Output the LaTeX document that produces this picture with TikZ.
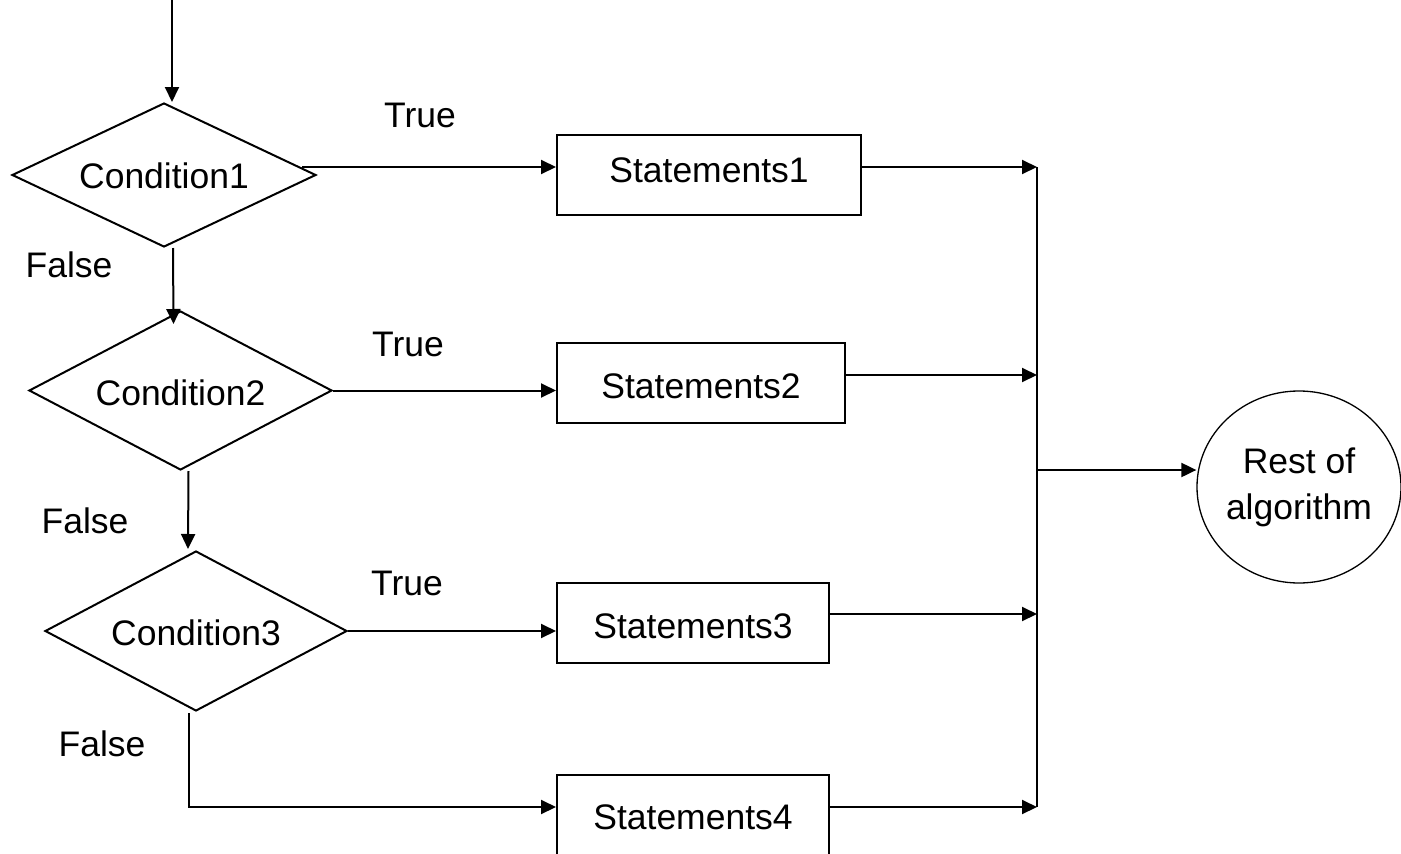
\documentclass[tikz,border=0pt]{standalone}
\usepackage{fontspec}
\setmainfont{Liberation Sans}
\usetikzlibrary{shapes.geometric,arrows.meta,calc}
\begin{document}
\begin{tikzpicture}[x=1pt,y=-1pt,
  line width=2pt,
  font=\fontsize{35.5}{46}\selectfont,
  arr/.style={-{Triangle[length=15pt,width=14pt]}},
  cond/.style={draw, diamond, shape aspect=2.1, inner sep=0pt, text depth=0pt, minimum width=304pt},
  stbox/.style={draw, rectangle, inner sep=0pt, text depth=0pt, minimum height=80pt},
  lbl/.style={anchor=base, inner sep=0pt},
]
\useasboundingbox (0,0) rectangle (1401,854);

% decisions
\node[cond, minimum height=144pt, text height=26pt] (d1) at (164,175) {Condition1};
\node[cond, minimum width=303pt, minimum height=159pt, text height=29pt] (d2) at (180.5,390.5) {Condition2};
\node[cond, minimum width=302pt, minimum height=160pt, text height=28pt] (d3) at (196,631) {Condition3};

% statement boxes
\node[stbox, minimum width=304pt, text height=14pt] (s1) at (709,175) {Statements1};
\node[stbox, minimum width=288pt, text height=30pt] (s2) at (701,383) {Statements2};
\node[stbox, minimum width=272pt, text height=30pt] (s3) at (693,623) {Statements3};
\node[stbox, minimum width=272pt, text height=28pt] (s4) at (693,815) {Statements4};

% end
\node[draw, ellipse, line width=1.3pt, minimum width=204pt, minimum height=192pt,
      inner xsep=-30pt, inner ysep=0pt, align=center] (el) at (1299,487) {Rest of\\algorithm};

% junction points
\coordinate (top) at (172,0);
\coordinate (j1) at (1037,167);
\coordinate (j2) at (1037,375);
\coordinate (j3) at (1037,614);
\coordinate (j4) at (1037,807);
\coordinate (jm) at (1037,470);

% connectors
\draw[arr] (top) -- (top |- d1.north);
\draw[arr] ($(d1.east)+(-15,-8)$) -- ($(s1.west)+(0,-8)$);
\draw[arr] (d2.east) -- (d2.east -| s2.west);
\draw[arr] (d3.east) -- (d3.east -| s3.west);
\draw[arr] ($(d1.south)+(9,0)$) -- ($(d2.north)+(-7,14)$);
\draw[arr] ($(d2.south)+(8,0)$) -- ($(d3.north)+(-8,-1)$);
\draw[arr] ($(d3.south)+(-7,1)$) |- ($(s4.west)+(0,-8)$);
\draw[arr] ($(s1.east)+(0,-8)$) -- (j1);
\draw[arr] ($(s2.east)+(0,-8)$) -- (j2);
\draw[arr] ($(s3.east)+(0,-9)$) -- (j3);
\draw[arr] ($(s4.east)+(0,-8)$) -- (j4);
\draw (j1) -- (j4);
\draw[arr] (jm) -- (jm -| el.west);

% labels
\node[lbl] (t1) at (420,127) {True};
\node[lbl] (t2) at (408,356) {True};
\node[lbl] (t3) at (407,595) {True};
\node[lbl] (f1) at (69,277) {False};
\node[lbl] (f2) at (85,533) {False};
\node[lbl] (f3) at (102,756) {False};
\end{tikzpicture}
\end{document}
